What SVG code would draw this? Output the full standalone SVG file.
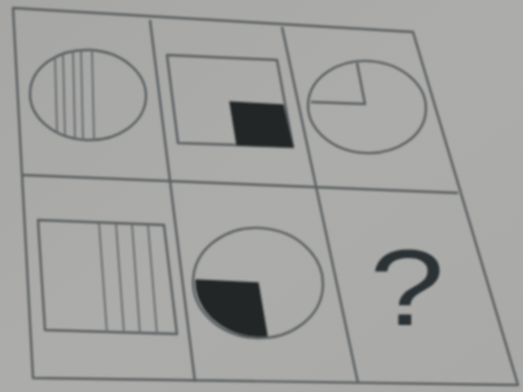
<svg xmlns="http://www.w3.org/2000/svg" width="523" height="392" viewBox="0 0 523 392">
  <defs>
    <linearGradient id="bg" x1="0" y1="0" x2="1" y2="1">
      <stop offset="0" stop-color="#a6a6a4"/>
      <stop offset="0.5" stop-color="#acacaa"/>
      <stop offset="1" stop-color="#a9a9a7"/>
    </linearGradient>
    <filter id="soft" x="-5%" y="-5%" width="110%" height="110%">
      <feGaussianBlur stdDeviation="1"/>
    </filter>
  </defs>
  <style>
    .ln { fill: none; stroke: #5a5f61; stroke-width: 2.4; stroke-linejoin: round; }
    .thin { fill: none; stroke: #666b6d; stroke-width: 1.8; }
    .blk { fill: #222626; stroke: #2a2e2f; stroke-width: 1.5; stroke-linejoin: round; }
    .q { font-family: "Liberation Sans", Arial, sans-serif; font-size: 108px; fill: #2c3234; }
  </style>
  <rect x="0" y="0" width="523" height="392" fill="url(#bg)"/>
  <g filter="url(#soft)">
    <g id="grid">
      <polygon class="ln" points="13,8 413,32 518,385 33,378"/>
      <line class="ln" x1="22" y1="175" x2="458" y2="193"/>
      <line class="ln" x1="150" y1="20" x2="195" y2="382"/>
      <line class="ln" x1="282" y1="27" x2="358" y2="383"/>
    </g>
    <g id="cell-1">
      <ellipse class="ln" cx="88" cy="95" rx="58" ry="45" transform="rotate(3 88 95)"/>
      <line class="thin" x1="55" y1="57" x2="57" y2="132"/>
      <line class="thin" x1="63" y1="53" x2="65" y2="136"/>
      <line class="thin" x1="73" y1="51" x2="75" y2="139"/>
      <line class="thin" x1="81" y1="50" x2="83" y2="140"/>
      <line class="thin" x1="92" y1="50" x2="94" y2="140"/>
    </g>
    <g id="cell-2">
      <polygon class="ln" points="167,55 277,60 293,147 178,143"/>
      <polygon class="blk" points="230,102 283,105 293,147 237,145"/>
    </g>
    <g id="cell-3">
      <ellipse class="ln" cx="367" cy="107" rx="59" ry="46" transform="rotate(4 367 107)"/>
      <polyline class="ln" points="357,63 365,104 311,102"/>
    </g>
    <g id="cell-4">
      <polygon class="ln" points="38,220 164,225 177,334 45,330"/>
      <line class="thin" x1="99" y1="223" x2="107" y2="333"/>
      <line class="thin" x1="116" y1="224" x2="124" y2="333"/>
      <line class="thin" x1="132" y1="224" x2="140" y2="334"/>
      <line class="thin" x1="148" y1="225" x2="157" y2="334"/>
    </g>
    <g id="cell-5">
      <ellipse class="ln" cx="258" cy="283" rx="65" ry="55" transform="rotate(4 258 283)"/>
      <path class="blk" d="M258,283 L196,280 A65,55 0 0 0 267,336 Z"/>
    </g>
    <g id="cell-6">
      <text class="q" transform="translate(407,325) scale(1.25,1)" text-anchor="middle">?</text>
    </g>
  </g>
</svg>
